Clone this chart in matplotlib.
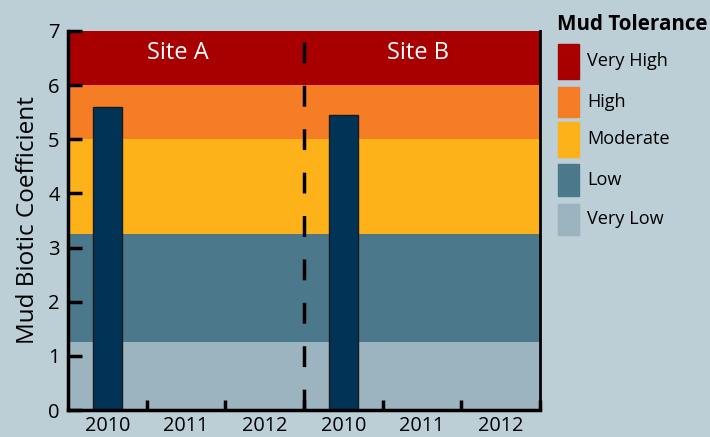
import matplotlib.pyplot as plt
import numpy as np

# Datos
years = ['2010', '2011', '2012', '2010', '2011', '2012']
values = [5.6, np.nan, np.nan, 5.45, np.nan, np.nan]
sites = ['Site A', 'Site B']
site_x = [0.9, 3.95]

# Bandas de tolerancia (de abajo hacia arriba)
band_names = ['Very Low', 'Low', 'Moderate', 'High', 'Very High']
band_edges = [0, 1.25, 3.25, 5.0, 6.0, 7.0]
band_colors = ['#9CB3C0', '#4B788B', '#FDB21A', '#F47D26', '#A80000']

bg = '#BCCED6'
bar_color = '#003355'

plt.rcParams['font.family'] = ['Open Sans', 'DejaVu Sans']

fig = plt.figure(figsize=(7.1, 4.37), dpi=100)
fig.patch.set_facecolor(bg)
ax = fig.add_axes([68/710, 1 - 410/437, (540-68)/710, (410-31)/437])

n = len(years)
x = np.arange(n)

for i in range(len(band_names)):
    ax.axhspan(band_edges[i], band_edges[i+1], color=band_colors[i], zorder=0, lw=0)

ax.bar(x, values, width=0.37, color=bar_color, edgecolor='#1a1a1a', linewidth=1, zorder=2)

# Linea divisoria entre sitios
ax.axvline(2.5, ymax=0.995, color='black', lw=2.5, dashes=(6, 6.5), zorder=3)

for sx, name in zip(site_x, sites):
    ax.text(sx, 6.6, name, color='white', fontsize=17, ha='center', va='center', zorder=4)

ax.set_xlim(-0.5, n - 0.5)
ax.set_ylim(0, 7)
ax.set_yticks(range(0, 8))
ax.set_xticks(x)
ax.set_xticklabels(years)
ax.set_xticks(np.arange(0.5, n, 1), minor=True)
ax.tick_params(axis='x', which='major', length=0, labelsize=14.3, pad=4)
ax.tick_params(axis='x', which='minor', direction='in', length=7, width=2.5)
ax.tick_params(axis='y', direction='in', length=10, width=2.5, labelsize=14.5, pad=6)
ax.set_ylabel('Mud Biotic Coefficient', fontsize=17.5, labelpad=6)

ax.spines['top'].set_visible(False)
ax.spines['left'].set_linewidth(2.5)
ax.spines['bottom'].set_linewidth(2.5)
ax.spines['right'].set_linewidth(2)

# Leyenda manual
fig.text(557/710, 1 - 25/437, 'Mud Tolerance', fontsize=14.9, fontweight='bold',
         ha='left', va='center')
tops = [44, 87, 122, 164, 204]
heights = [35, 30, 35, 32, 31]
for k, (name, col) in enumerate(zip(band_names[::-1], band_colors[::-1])):
    t, h = tops[k], heights[k]
    fig.patches.append(plt.Rectangle((558/710, 1 - (t + h)/437), 21/710, h/437,
                                     transform=fig.transFigure, color=col))
    fig.text(587/710, 1 - (t + h/2)/437, name, fontsize=13.1, ha='left', va='center')

plt.savefig('out.png', dpi=100, facecolor=bg)
